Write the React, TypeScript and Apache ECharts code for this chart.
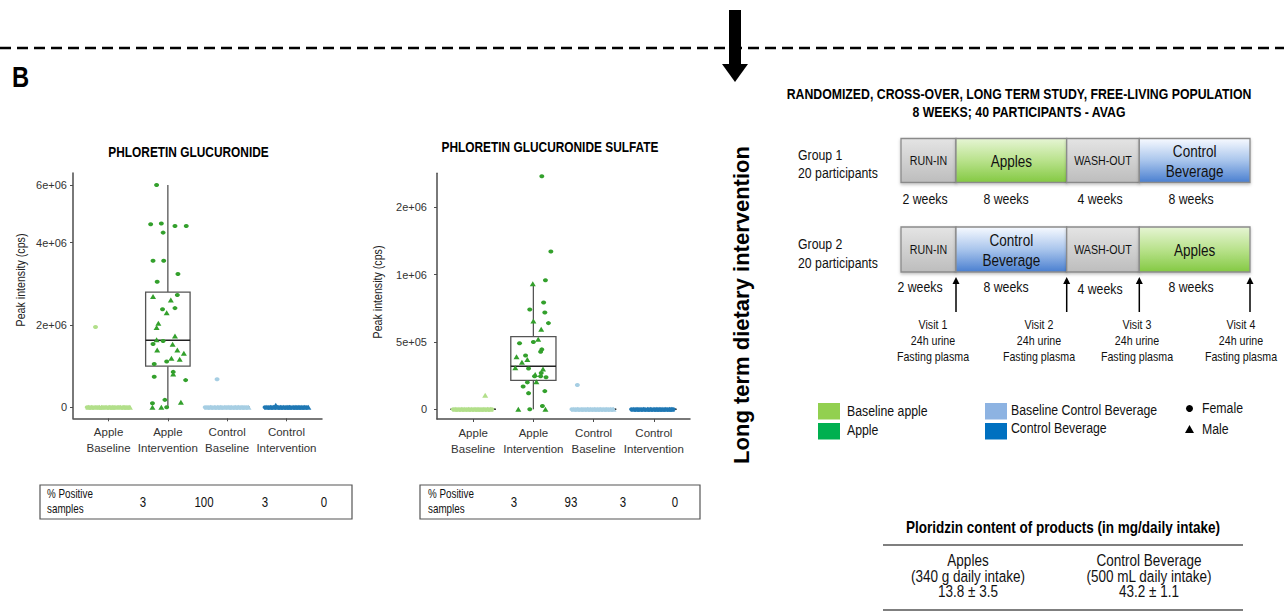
import React, { useEffect, useRef } from "react";
import * as echarts from "echarts";

const FONT = "'Liberation Sans', Arial, sans-serif";
const NARROW = 0.82;

// ---------- shared categories ----------
const CATEGORIES = ["Apple\nBaseline", "Apple\nIntervention", "Control\nBaseline", "Control\nIntervention"];
const GROUP_COLORS = ["#b2df8a", "#33a02c", "#a6cee3", "#1f78b4"];
const PCT_LABEL = ["% Positive", "samples"];

// ---------- panel 1: phloretin glucuronide ----------
const PG_TITLE = "PHLORETIN GLUCURONIDE";
const PG_TICKS = [0, 2e6, 4e6, 6e6];
const PG_TICK_LABELS = ["0", "2e+06", "4e+06", "6e+06"];
const PG_TICK_POS = [0, 1, 2, 2.7];
const PG_BOX = [
  [0, 0, 0, 0, 0],
  [0, 1.0e6, 1.63e6, 2.8e6, 6.0e6],
  [0, 0, 0, 0, 0],
  [0, 0, 0, 0, 0],
];
const PG_PCT = ["3", "100", "3", "0"];
// points: [jitter, value]
const PG_AB_F = [[-0.22, 1.95e6], [-0.36, 0], [-0.32, 0], [-0.27, 0], [-0.21, 0], [-0.17, 0], [-0.1, 0], [-0.06, 0], [0.0, 0], [0.04, 0], [0.09, 0], [0.15, 0], [0.18, 0], [0.24, 0], [0.28, 0], [0.34, 0]];
const PG_AB_M = [[-0.34, 0], [-0.29, 0], [-0.23, 0], [-0.15, 0], [-0.12, 0], [-0.04, 0], [0.02, 0], [0.07, 0], [0.11, 0], [0.2, 0], [0.26, 0], [0.31, 0], [0.36, 0]];
const PG_AI_F = [
  [-0.19, 6.0e6], [-0.29, 4.64e6], [-0.11, 4.67e6], [-0.08, 4.35e6], [0.12, 4.58e6], [0.31, 4.58e6],
  [-0.25, 3.56e6], [-0.07, 3.56e6], [0.17, 3.24e6], [-0.18, 3.05e6], [0.16, 2.73e6], [-0.09, 2.38e6],
  [0.12, 2.41e6], [-0.25, 1.54e6], [-0.08, 1.61e6], [-0.02, 1.11e6], [-0.23, 1.05e6], [0.09, 0.86e6],
  [-0.23, 0.74e6], [0.3, 0.66e6], [-0.26, 0.1e6], [-0.05, 0.18e6], [-0.02, 0],
];
const PG_AI_M = [
  [-0.25, 2.69e6], [0.05, 2.61e6], [-0.02, 2.3e6], [-0.16, 2.04e6], [-0.19, 1.94e6], [-0.19, 1.64e6],
  [0.12, 1.73e6], [0.08, 1.53e6], [0.16, 1.39e6], [0.27, 1.31e6], [0.06, 1.19e6], [0.2, 1.17e6],
  [-0.18, 1.39e6], [0.09, 0.81e6], [0.22, 0.12e6], [-0.26, 0], [-0.11, 0],
];
const PG_CB_F = [[-0.17, 0.68e6], [-0.37, 0], [-0.31, 0], [-0.26, 0], [-0.2, 0], [-0.14, 0], [-0.09, 0], [-0.03, 0], [0.01, 0], [0.06, 0], [0.12, 0], [0.17, 0], [0.22, 0], [0.27, 0], [0.33, 0]];
const PG_CB_M = [[-0.34, 0], [-0.28, 0], [-0.22, 0], [-0.16, 0], [-0.11, 0], [-0.05, 0], [0.03, 0], [0.08, 0], [0.14, 0], [0.19, 0], [0.25, 0], [0.3, 0], [0.36, 0]];
const PG_CI_F = [[-0.36, 0], [-0.3, 0], [-0.25, 0], [-0.2, 0], [-0.13, 0], [-0.08, 0], [-0.02, 0], [0.03, 0], [0.07, 0], [0.13, 0], [0.18, 0], [0.23, 0], [0.29, 0], [0.34, 0]];
const PG_CI_M = [[-0.18, 0.05e6], [-0.33, 0], [-0.27, 0], [-0.22, 0], [-0.15, 0], [-0.1, 0], [-0.05, 0], [0.01, 0], [0.05, 0], [0.11, 0], [0.16, 0], [0.21, 0], [0.26, 0], [0.31, 0], [0.37, 0]];

// ---------- panel 2: phloretin glucuronide sulfate ----------
const PGS_TITLE = "PHLORETIN GLUCURONIDE SULFATE";
const PGS_TICKS = [0, 5e5, 1e6, 2e6];
const PGS_TICK_LABELS = ["0", "5e+05", "1e+06", "2e+06"];
const PGS_TICK_POS = [0, 1, 2, 3];
const PGS_BOX = [
  [0, 0, 0, 0, 0],
  [0, 2.15e5, 3.2e5, 5.4e5, 9.33e5],
  [0, 0, 0, 0, 0],
  [0, 0, 0, 0, 0],
];
const PGS_PCT = ["3", "93", "3", "0"];
const PGS_AB_F = [[-0.33, 0], [-0.28, 0], [-0.22, 0], [-0.17, 0], [-0.11, 0], [-0.06, 0], [0.0, 0], [0.05, 0], [0.1, 0], [0.16, 0], [0.21, 0], [0.26, 0], [0.31, 0]];
const PGS_AB_M = [[0.2, 1.05e5], [-0.3, 0], [-0.25, 0], [-0.19, 0], [-0.14, 0], [-0.08, 0], [-0.03, 0], [0.03, 0], [0.08, 0], [0.13, 0], [0.18, 0], [0.24, 0], [0.29, 0]];
const PGS_AI_F = [
  [0.14, 2.46e6], [0.29, 1.345e6], [0.2, 9.58e5], [0.17, 7.93e5], [-0.06, 7.41e5], [0.19, 7.19e5],
  [0.25, 6.4e5], [-0.23, 4.9e5], [0.0, 5.0e5], [0.14, 4.45e5], [0.12, 4.28e5], [-0.13, 4.0e5],
  [-0.08, 3.03e5], [0.13, 2.7e5], [0.12, 2.45e5], [0.21, 2.38e5], [0.02, 2.45e5], [-0.17, 1.7e5],
  [-0.1, 2.0e5], [-0.08, 1.2e5], [0.19, 1.35e5], [-0.06, 0], [0.15, 2.5e4],
];
const PGS_AI_M = [
  [-0.01, 9.33e5], [0.0, 6.55e5], [0.13, 5.94e5], [0.08, 5.2e5], [-0.28, 3.9e5], [-0.1, 3.7e5],
  [-0.3, 3.08e5], [-0.19, 3.5e5], [0.16, 3.0e5], [0.03, 2.58e5], [0.05, 2.05e5], [-0.25, 0], [0.2, 0],
];
const PGS_CB_F = [[-0.27, 1.8e5], [-0.36, 0], [-0.3, 0], [-0.25, 0], [-0.19, 0], [-0.13, 0], [-0.08, 0], [-0.02, 0], [0.03, 0], [0.09, 0], [0.14, 0], [0.2, 0], [0.25, 0], [0.31, 0]];
const PGS_CB_M = [[-0.33, 0], [-0.27, 0], [-0.21, 0], [-0.16, 0], [-0.1, 0], [-0.05, 0], [0.01, 0], [0.06, 0], [0.11, 0], [0.17, 0], [0.22, 0], [0.28, 0], [0.33, 0]];
const PGS_CI_F = [[-0.37, 0], [-0.31, 0], [-0.26, 0], [-0.2, 0], [-0.15, 0], [-0.09, 0], [-0.04, 0], [0.02, 0], [0.07, 0], [0.12, 0], [0.18, 0], [0.23, 0], [0.28, 0], [0.32, 0]];
const PGS_CI_M = [[-0.34, 0], [-0.28, 0], [-0.23, 0], [-0.17, 0], [-0.11, 0], [-0.06, 0], [0.0, 0], [0.05, 0], [0.1, 0], [0.15, 0], [0.2, 0], [0.26, 0], [0.3, 0]];

// ---------- right-hand study design ----------
const STUDY_TITLE = ["RANDOMIZED, CROSS-OVER, LONG TERM STUDY, FREE-LIVING POPULATION", "8 WEEKS; 40 PARTICIPANTS - AVAG"];
const GROUP_LABELS = [["Group 1", "20 participants"], ["Group 2", "20 participants"]];
const G1_PHASES = ["RUN-IN", "Apples", "WASH-OUT", "Control\nBeverage"];
const G2_PHASES = ["RUN-IN", "Control\nBeverage", "WASH-OUT", "Apples"];
const PHASE_WEEKS = ["2 weeks", "8 weeks", "4 weeks", "8 weeks"];
const VISITS = [
  ["Visit 1", "24h urine", "Fasting plasma"],
  ["Visit 2", "24h urine", "Fasting plasma"],
  ["Visit 3", "24h urine", "Fasting plasma"],
  ["Visit 4", "24h urine", "Fasting plasma"],
];
const LEGEND_ITEMS = [
  ["Baseline apple", "#92d050"],
  ["Apple", "#00b050"],
  ["Baseline Control Beverage", "#8db3e2"],
  ["Control Beverage", "#0070c0"],
];
const SEX_LABELS = ["Female", "Male"];
const TABLE_TITLE = "Ploridzin content of products (in mg/daily intake)";
const TABLE_COLS = [
  ["Apples", "(340 g daily intake)", "13.8 \u00b1 3.5"],
  ["Control Beverage", "(500 mL daily intake)", "43.2 \u00b1 1.1"],
];
const SIDE_LABEL = "Long term dietary intervention";

// ---------- helpers ----------
function makeTransform(ticks: number[], pos: number[]) {
  return (v: number) => {
    for (let i = 1; i < ticks.length; i++) {
      if (v <= ticks[i] || i === ticks.length - 1) {
        const t = (v - ticks[i - 1]) / (ticks[i] - ticks[i - 1]);
        return pos[i - 1] + t * (pos[i] - pos[i - 1]);
      }
    }
    return 0;
  };
}

const AXIS_COLOR = "#4d4d4d";

function yAxisFor(gridIndex: number, pos: number[], labels: string[], min: number, max: number, margin: number) {
  return {
    type: "value",
    gridIndex,
    min,
    max,
    axisLine: { show: true, onZero: false, lineStyle: { color: AXIS_COLOR, width: 1.5 } },
    axisTick: { show: true, length: 3, customValues: pos, lineStyle: { color: AXIS_COLOR, width: 1 } },
    axisLabel: {
      customValues: pos,
      margin,
      color: "#333",
      fontFamily: FONT,
      fontSize: 11,
      formatter: (v: number) => {
        const i = pos.findIndex((p) => Math.abs(p - v) < 1e-6);
        return i >= 0 ? labels[i] : "";
      },
    },
    splitLine: { show: false },
  };
}

function xAxisFor(gridIndex: number) {
  return {
    type: "value",
    gridIndex,
    min: -0.6,
    max: 3.6,
    axisLine: { show: true, onZero: false, lineStyle: { color: AXIS_COLOR, width: 1.5 } },
    axisTick: { show: true, length: 3, customValues: [0, 1, 2, 3], lineStyle: { color: AXIS_COLOR, width: 1 } },
    axisLabel: {
      customValues: [0, 1, 2, 3],
      margin: 6,
      color: "#333",
      fontFamily: FONT,
      fontSize: 11.5,
      lineHeight: 16,
      formatter: (v: number) => CATEGORIES[Math.round(v)] || "",
    },
    splitLine: { show: false },
  };
}

function boxSeries(idx: number, stats: number[][], tf: (v: number) => number) {
  return {
    type: "custom",
    xAxisIndex: idx,
    yAxisIndex: idx,
    z: 1,
    silent: true,
    data: stats.map((s, i) => [i, ...s.map(tf)]),
    encode: { x: 0, y: [1, 2, 3, 4, 5] },
    renderItem: (_p: any, api: any) => {
      const c = api.value(0);
      const mn = api.value(1), q1 = api.value(2), md = api.value(3), q3 = api.value(4), mx = api.value(5);
      const half = 0.375;
      const tl = api.coord([c - half, q3]);
      const br = api.coord([c + half, q1]);
      const m = api.coord([c, md]);
      const top = api.coord([c, mx]);
      const bot = api.coord([c, mn]);
      const st = { stroke: "#555", lineWidth: 1.3, fill: "none" };
      return {
        type: "group",
        children: [
          { type: "line", shape: { x1: top[0], y1: top[1], x2: top[0], y2: tl[1] }, style: st },
          { type: "line", shape: { x1: bot[0], y1: bot[1], x2: bot[0], y2: br[1] }, style: st },
          { type: "rect", shape: { x: tl[0], y: tl[1], width: br[0] - tl[0], height: br[1] - tl[1] }, style: { stroke: "#555", lineWidth: 1.3, fill: "#fff" } },
          { type: "line", shape: { x1: tl[0], y1: m[1], x2: br[0], y2: m[1] }, style: { stroke: "#222", lineWidth: 1.6 } },
        ],
      };
    },
  };
}

function pointSeries(idx: number, cat: number, pts: number[][], tf: (v: number) => number, male: boolean) {
  return {
    type: "scatter",
    xAxisIndex: idx,
    yAxisIndex: idx,
    z: 3,
    silent: true,
    symbol: male ? "triangle" : "circle",
    symbolSize: male ? [6, 5] : [5, 4],
    itemStyle: { color: GROUP_COLORS[cat], opacity: 1 },
    data: pts.map(([j, v]) => [cat + j, tf(v)]),
  };
}

function txt(x: number, y: number, text: string, o: any = {}, sx: number = NARROW) {
  return {
    type: "text",
    x,
    y,
    scaleX: sx,
    silent: true,
    style: {
      text,
      fill: "#111",
      fontFamily: FONT,
      fontSize: 13,
      align: "center",
      verticalAlign: "middle",
      ...o,
    },
  };
}

function grad(kind: string) {
  if (kind === "grey")
    return new echarts.graphic.LinearGradient(0, 0, 0, 1, [
      { offset: 0, color: "#e4e4e4" },
      { offset: 1, color: "#bdbdbd" },
    ]);
  if (kind === "green")
    return new echarts.graphic.LinearGradient(0, 0, 0, 1, [
      { offset: 0, color: "#e6f5d4" },
      { offset: 0.5, color: "#b9e28c" },
      { offset: 1, color: "#84c943" },
    ]);
  return new echarts.graphic.LinearGradient(0, 0, 0, 1, [
    { offset: 0, color: "#f7faff" },
    { offset: 0.5, color: "#a9c5ec" },
    { offset: 1, color: "#4a7fd0" },
  ]);
}

function phaseKind(name: string) {
  if (name === "Apples") return "green";
  if (name.startsWith("Control")) return "blue";
  return "grey";
}

function buildOption() {
  const tf1 = makeTransform(PG_TICKS, PG_TICK_POS);
  const tf2 = makeTransform(PGS_TICKS, PGS_TICK_POS);

  const series: any[] = [boxSeries(0, PG_BOX, tf1), boxSeries(1, PGS_BOX, tf2)];
  const p1 = [[PG_AB_F, PG_AB_M], [PG_AI_F, PG_AI_M], [PG_CB_F, PG_CB_M], [PG_CI_F, PG_CI_M]];
  const p2 = [[PGS_AB_F, PGS_AB_M], [PGS_AI_F, PGS_AI_M], [PGS_CB_F, PGS_CB_M], [PGS_CI_F, PGS_CI_M]];
  p1.forEach(([f, m], c) => {
    series.push(pointSeries(0, c, f, tf1, false));
    series.push(pointSeries(0, c, m, tf1, true));
  });
  p2.forEach(([f, m], c) => {
    series.push(pointSeries(1, c, f, tf2, false));
    series.push(pointSeries(1, c, m, tf2, true));
  });

  const g: any[] = [];
  // top separator and arrow
  g.push({ type: "line", silent: true, shape: { x1: 0, y1: 48, x2: 1284, y2: 48 }, style: { stroke: "#000", lineWidth: 2.5, lineDash: [11, 6] } });
  g.push({ type: "rect", silent: true, shape: { x: 729, y: 10, width: 12, height: 56 }, style: { fill: "#000" } });
  g.push({ type: "polygon", silent: true, shape: { points: [[722, 64], [748, 64], [735, 82]] }, style: { fill: "#000" } });
  g.push(txt(12, 77, "B", { fontSize: 29, fontWeight: "bold", align: "left", fill: "#000" }));

  // chart titles and y names
  g.push(txt(188.5, 152, PG_TITLE, { fontSize: 14.5, fontWeight: "bold", fill: "#000" }));
  g.push(txt(550, 147, PGS_TITLE, { fontSize: 14.5, fontWeight: "bold", fill: "#000" }));
  g.push({ ...txt(21, 280, "Peak intensity (cps)", { fontSize: 13, fill: "#222" }), rotation: Math.PI / 2 });
  g.push({ ...txt(378, 292, "Peak intensity (cps)", { fontSize: 13, fill: "#222" }), rotation: Math.PI / 2 });

  // percent positive boxes
  const pctBox = (x: number, w: number, labelX: number, valsX: number[], vals: string[]) => {
    g.push({ type: "rect", silent: true, shape: { x, y: 485, width: w, height: 34 }, style: { fill: "none", stroke: "#555", lineWidth: 1.2 } });
    g.push(txt(labelX, 494, PCT_LABEL[0], { fontSize: 12, align: "left" }));
    g.push(txt(labelX, 509, PCT_LABEL[1], { fontSize: 12, align: "left" }));
    vals.forEach((v, i) => g.push(txt(valsX[i], 502, v, { fontSize: 14 })));
  };
  pctBox(40, 312, 47, [143, 204, 265, 324], PG_PCT);
  pctBox(420, 280, 428, [514, 571, 623, 675], PGS_PCT);

  // vertical label
  g.push({ ...txt(741, 305, SIDE_LABEL, { fontSize: 22, fontWeight: "bold", fill: "#000" }, 1), rotation: Math.PI / 2 });

  // study design
  g.push(txt(1019, 94, STUDY_TITLE[0], { fontSize: 15, fontWeight: "bold", fill: "#000" }));
  g.push(txt(1019, 112, STUDY_TITLE[1], { fontSize: 15, fontWeight: "bold", fill: "#000" }));

  const segX = [901, 956, 1066.7, 1139.3, 1250];
  const rows = [
    { y: 138.5, h: 44, phases: G1_PHASES, labels: GROUP_LABELS[0], ly: [155, 173], wy: [199, 199, 199, 199], wx: [925, 1006, 1100, 1191] },
    { y: 227, h: 45, phases: G2_PHASES, labels: GROUP_LABELS[1], ly: [244.5, 263], wy: [287, 287, 289, 287], wx: [920, 1006, 1100, 1191] },
  ];
  rows.forEach((r) => {
    g.push(txt(798, r.ly[0], r.labels[0], { fontSize: 15, align: "left" }));
    g.push(txt(798, r.ly[1], r.labels[1], { fontSize: 15, align: "left" }));
    r.phases.forEach((p, i) => {
      const x0 = segX[i], x1 = segX[i + 1];
      g.push({ type: "rect", silent: true, shape: { x: x0, y: r.y, width: x1 - x0, height: r.h }, style: { fill: grad(phaseKind(p)), stroke: "#8a8a8a", lineWidth: 1.3, shadowBlur: 3, shadowColor: "rgba(0,0,0,0.25)", shadowOffsetY: 1.5 } });
      const cx = (x0 + x1) / 2;
      const cy = r.y + r.h / 2;
      const big = p === "Apples" || p.startsWith("Control");
      if (p.includes("\n")) {
        const parts = p.split("\n");
        g.push(txt(cx, cy - 10, parts[0], { fontSize: 16.5 }));
        g.push(txt(cx, cy + 10, parts[1], { fontSize: 16.5 }));
      } else {
        g.push(txt(cx, cy, p, { fontSize: big ? 16.5 : 13 }));
      }
      g.push(txt(r.wx[i], r.wy[i], PHASE_WEEKS[i], { fontSize: 15 }));
    });
  });

  // visit arrows
  const arrowX = [956, 1066.7, 1139.3, 1250];
  const visitX = [933, 1039, 1137, 1241];
  arrowX.forEach((x, i) => {
    g.push({ type: "line", silent: true, shape: { x1: x, y1: 312, x2: x, y2: 282 }, style: { stroke: "#000", lineWidth: 1.5 } });
    g.push({ type: "polygon", silent: true, shape: { points: [[x - 3.5, 284], [x + 3.5, 284], [x, 277]] }, style: { fill: "#000" } });
    VISITS[i].forEach((line, k) => g.push(txt(visitX[i], 324.5 + k * 16, line, { fontSize: 13 })));
  });

  // legend
  const lg = [
    [818, 403, 847, 411.5],
    [818, 423, 847, 430],
    [985, 403, 1011, 410.5],
    [985, 423, 1011, 428.5],
  ];
  LEGEND_ITEMS.forEach(([label, color], i) => {
    const [sx, sy, tx, ty] = lg[i];
    g.push({ type: "rect", silent: true, shape: { x: sx, y: sy, width: 22, height: 16.5 }, style: { fill: color } });
    g.push(txt(tx, ty, label, { fontSize: 15, align: "left" }));
  });
  g.push({ type: "circle", silent: true, shape: { cx: 1189.5, cy: 408.5, r: 3.5 }, style: { fill: "#000" } });
  g.push({ type: "polygon", silent: true, shape: { points: [[1185, 433], [1194, 433], [1189.5, 425]] }, style: { fill: "#000" } });
  g.push(txt(1202, 408.5, SEX_LABELS[0], { fontSize: 15, align: "left" }));
  g.push(txt(1202, 429, SEX_LABELS[1], { fontSize: 15, align: "left" }));

  // table
  g.push(txt(1063, 527, TABLE_TITLE, { fontSize: 16.5, fontWeight: "bold", fill: "#000" }));
  g.push({ type: "line", silent: true, shape: { x1: 883, y1: 545, x2: 1243, y2: 545 }, style: { stroke: "#555", lineWidth: 1.5 } });
  g.push({ type: "line", silent: true, shape: { x1: 883, y1: 610, x2: 1243, y2: 610 }, style: { stroke: "#555", lineWidth: 1.5 } });
  const colX = [968, 1149];
  TABLE_COLS.forEach((col, i) => col.forEach((line, k) => g.push(txt(colX[i], 560 + k * 15.5, line, { fontSize: 16.5 }))));

  return {
    animation: false,
    backgroundColor: "#fff",
    grid: [
      { left: 73, top: 173, width: 249, height: 245.3 },
      { left: 437, top: 173.3, width: 253, height: 245.7 },
    ],
    xAxis: [xAxisFor(0), xAxisFor(1)],
    yAxis: [
      yAxisFor(0, PG_TICK_POS, PG_TICK_LABELS, -0.134, 2.847, 6),
      yAxisFor(1, PGS_TICK_POS, PGS_TICK_LABELS, -0.144, 3.505, 10),
    ],
    series,
    graphic: g,
  };
}

export default function App() {
  const ref = useRef<HTMLDivElement>(null);
  useEffect(() => {
    document.body.style.margin = "0";
    const chart = echarts.init(ref.current!, null, { renderer: "svg" });
    chart.setOption(buildOption() as any);
    return () => chart.dispose();
  }, []);
  return <div ref={ref} style={{ width: 1284, height: 612 }} />;
}
